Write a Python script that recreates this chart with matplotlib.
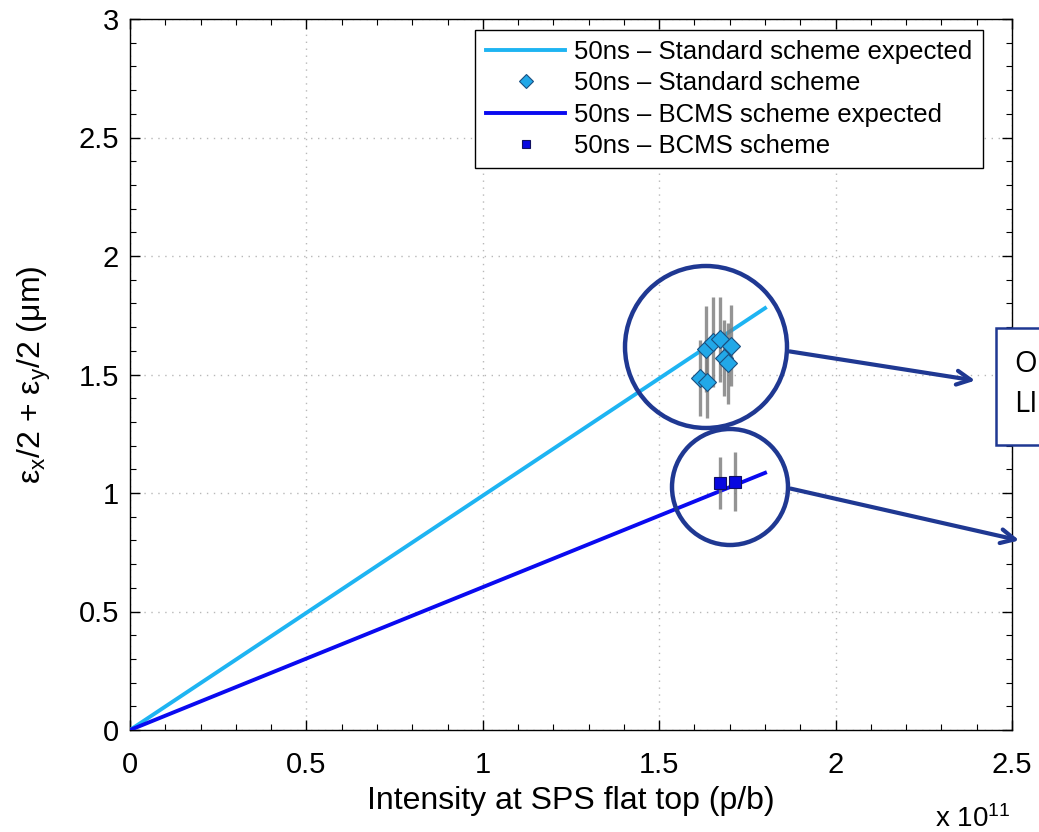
import matplotlib
matplotlib.use("Agg")
import matplotlib.pyplot as plt
import numpy as np
from matplotlib.patches import Circle, Rectangle
from matplotlib.ticker import MultipleLocator

plt.rcParams['font.family'] = ['Liberation Sans', 'DejaVu Sans']
plt.rcParams['mathtext.fontset'] = 'custom'
plt.rcParams['mathtext.rm'] = 'Liberation Sans'
plt.rcParams['mathtext.it'] = 'Liberation Sans'

# expected lines (intensity in units of 1e11 p/b)
line_x = [0.0, 1.8]
std_expected = [0.0, 1.78]
bcms_expected = [0.0, 1.085]

# measured points
std_x = [1.633, 1.653, 1.672, 1.704, 1.685, 1.694, 1.616, 1.635]
std_y = [1.608, 1.638, 1.648, 1.622, 1.568, 1.547, 1.484, 1.470]
std_err = [0.18, 0.19, 0.18, 0.17, 0.16, 0.17, 0.16, 0.155]

bcms_x = [1.672, 1.715]
bcms_y = [1.041, 1.048]
bcms_err = [0.11, 0.125]

labels = ['50ns \u2013 Standard scheme expected', '50ns \u2013 Standard scheme',
          '50ns \u2013 BCMS scheme expected', '50ns \u2013 BCMS scheme']

x_ticks = [0, 0.5, 1, 1.5, 2, 2.5]
x_ticklabels = ['0', '0.5', '1', '1.5', '2', '2.5']
y_ticks = [0, 0.5, 1, 1.5, 2, 2.5, 3]
y_ticklabels = ['0', '0.5', '1', '1.5', '2', '2.5', '3']

LIGHT = '#1EB4F2'
DARK = '#0A0AF0'
NAVY = '#1F3892'

fig = plt.figure(figsize=(10.39, 8.32), dpi=100)
ax = fig.add_axes([130/1039, 1-730/832, 882/1039, 711/832])

h1, = ax.plot(line_x, std_expected, color=LIGHT, lw=2.8, zorder=3)
ax.errorbar(std_x, std_y, yerr=std_err, fmt='none', ecolor='#7a7a7a', elinewidth=2.4,
            capsize=0, alpha=0.8, zorder=4)
h2, = ax.plot(std_x, std_y, 'D', color='#22A8E8', mec='#1A4F80', mew=0.8, ms=9, ls='none', zorder=5)
h3, = ax.plot(line_x, bcms_expected, color=DARK, lw=2.8, zorder=3)
ax.errorbar(bcms_x, bcms_y, yerr=bcms_err, fmt='none', ecolor='#7a7a7a', elinewidth=2.4,
            capsize=0, alpha=0.8, zorder=4)
h4, = ax.plot(bcms_x, bcms_y, 's', color='#0808E0', mec='#101060', mew=0.8, ms=8, ls='none', zorder=5)

ax.set_xlim(0, 2.5)
ax.set_ylim(0, 3)
ax.set_xticks(x_ticks)
ax.set_xticklabels(x_ticklabels)
ax.set_yticks(y_ticks)
ax.set_yticklabels(y_ticklabels)
ax.xaxis.set_minor_locator(MultipleLocator(0.1))
ax.yaxis.set_minor_locator(MultipleLocator(0.1))
ax.tick_params(which='both', direction='in', top=True, right=True, labelsize=21)
ax.tick_params(axis='x', which='major', pad=15)
ax.tick_params(axis='y', which='major', pad=8)
ax.tick_params(which='major', length=7, width=1.0)
ax.tick_params(which='minor', length=4, width=0.8)
ax.grid(True, which='major', ls=(0, (1, 4)), color='#b8b8b8', lw=1.0)
for s in ax.spines.values():
    s.set_linewidth(1.0)

ax.set_xlabel('Intensity at SPS flat top (p/b)', fontsize=23, labelpad=5)
ax.set_ylabel(r'ε$_x$/2 + ε$_y$/2 (μm)', fontsize=23, labelpad=18)

leg = ax.legend([h1, h2, h3, h4], labels, loc='upper right',
                bbox_to_anchor=(0.967, 0.9845), borderaxespad=0, fontsize=18.5,
                fancybox=False, framealpha=1, edgecolor='black', handlelength=3.1,
                labelspacing=0.28, borderpad=0.4, handletextpad=0.35, markerscale=0.8)
leg.get_frame().set_linewidth(1.0)

fig.text(1010/1039, 1-827/832, r'x 10$^{11}$', fontsize=20, ha='right', va='baseline')

# annotation overlay in pixel coordinates
ov = fig.add_axes([0, 0, 1, 1], zorder=10)
ov.set_xlim(0, 1039)
ov.set_ylim(832, 0)
ov.axis('off')
ov.patch.set_alpha(0)
ov.add_patch(Circle((706, 347), 81, fill=False, ec=NAVY, lw=3.2))
ov.add_patch(Circle((730, 487), 58, fill=False, ec=NAVY, lw=3.2))
ov.annotate('', xy=(978, 381), xytext=(787, 351),
            arrowprops=dict(arrowstyle='->', color=NAVY, lw=3.0, mutation_scale=25))
ov.annotate('', xy=(1022, 541), xytext=(788, 488),
            arrowprops=dict(arrowstyle='->', color=NAVY, lw=3.0, mutation_scale=25))
ov.add_patch(Rectangle((996, 328), 80, 117, fc='white', ec=NAVY, lw=1.8))
ov.text(1014, 364, 'O', fontsize=21, va='center', ha='left', color='black',
        family=['Open Sans', 'DejaVu Sans'])
ov.text(1014, 404, 'LI', fontsize=21, va='center', ha='left', color='black',
        family=['Open Sans', 'DejaVu Sans'])

fig.savefig('out.png', dpi=100)
